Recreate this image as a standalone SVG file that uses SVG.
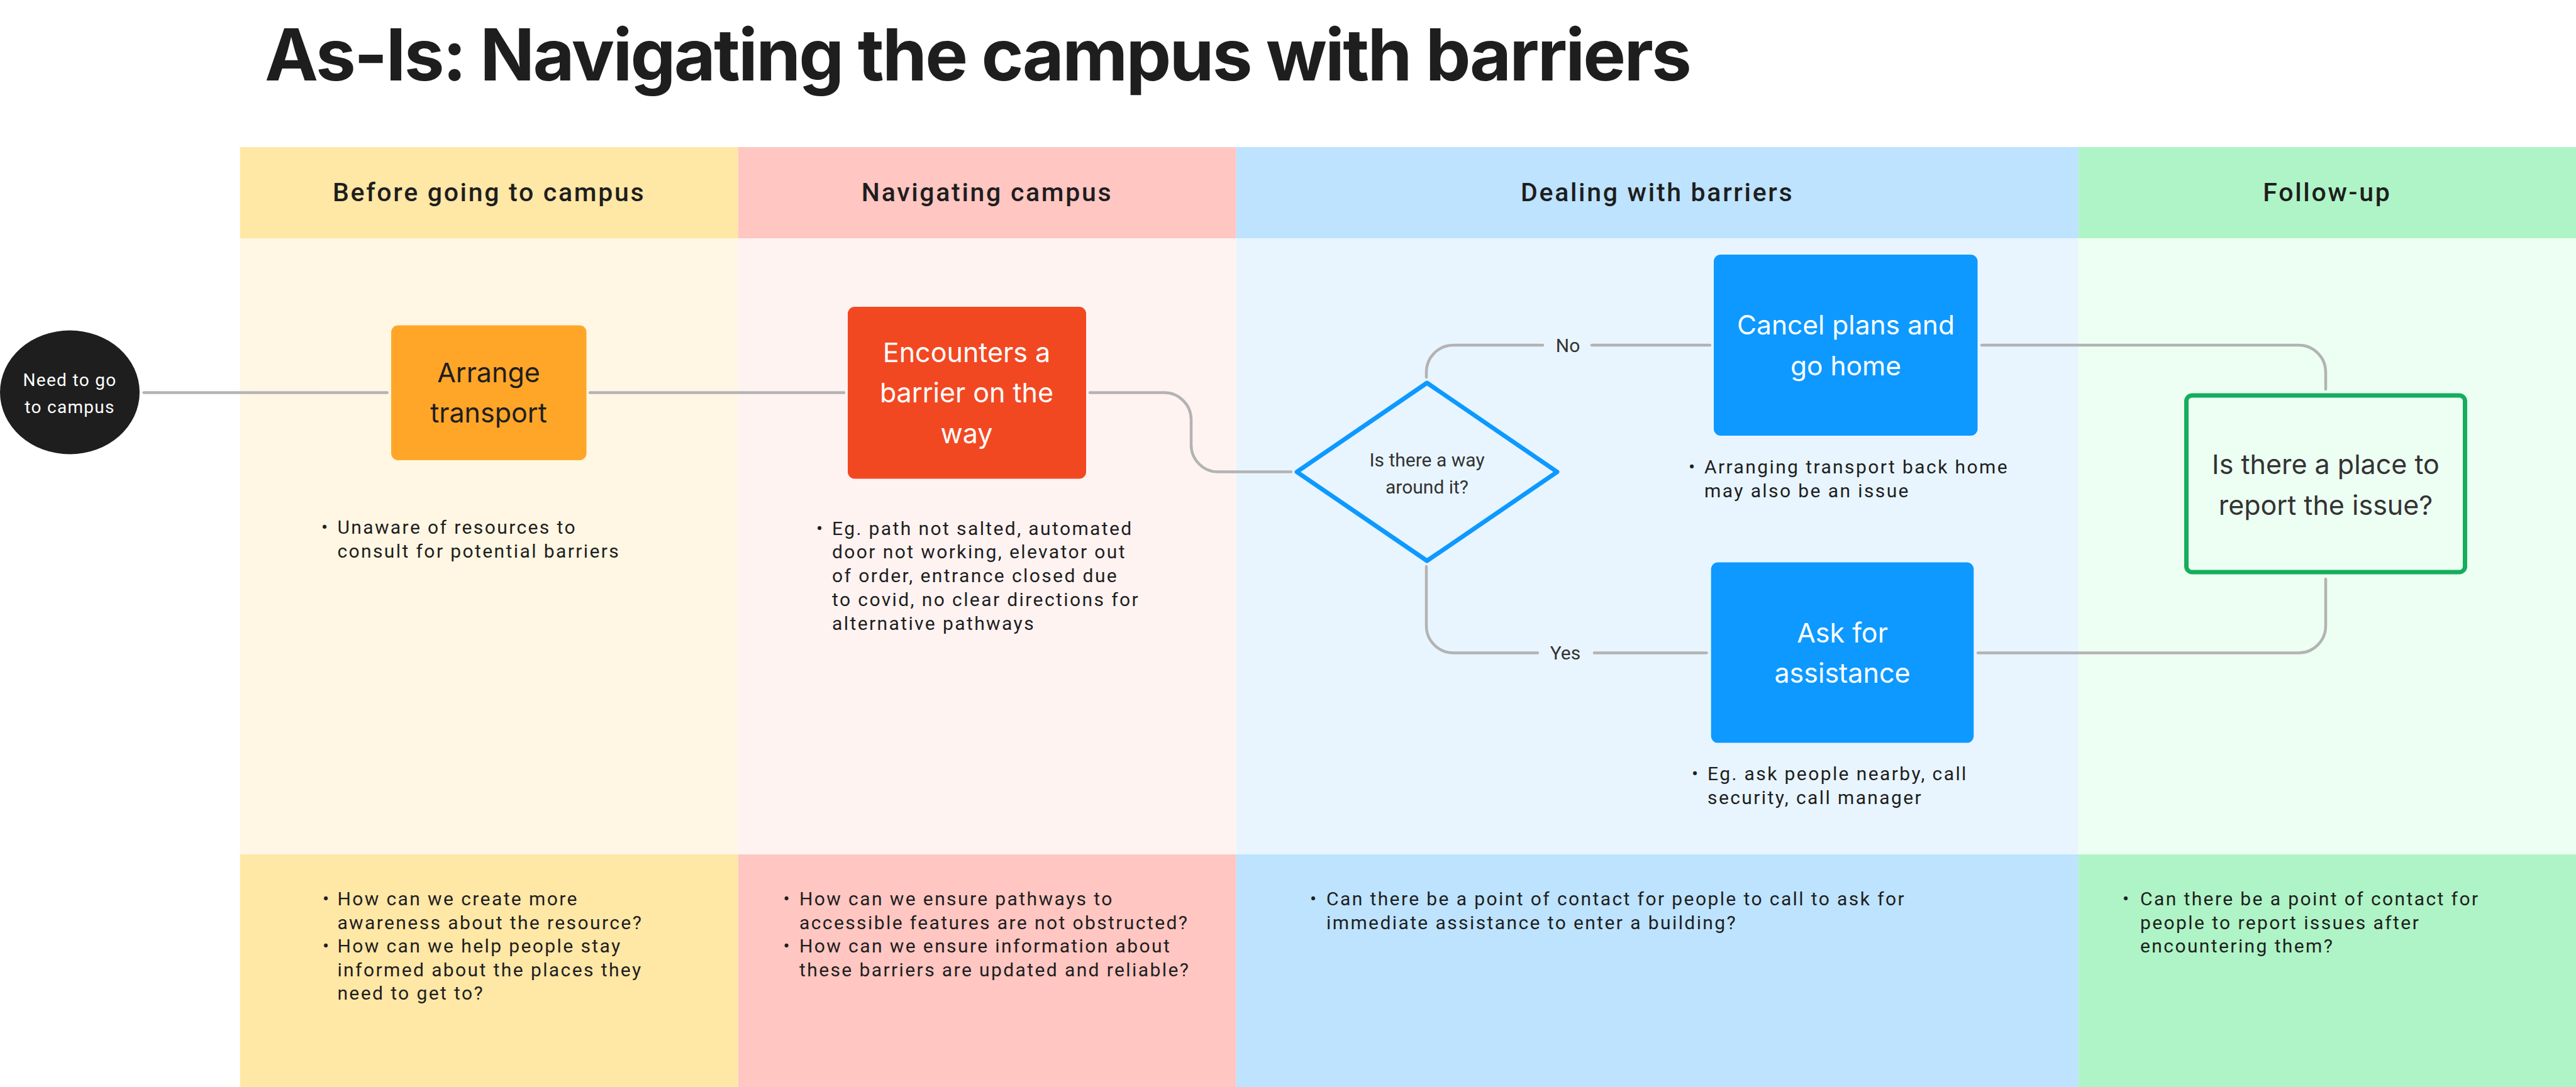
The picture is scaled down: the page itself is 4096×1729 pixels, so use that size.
<svg xmlns="http://www.w3.org/2000/svg" width="4096" height="1729" viewBox="0 0 4096 1729">
<style>
.title{font-family:Inter,"Noto Sans",sans-serif;font-weight:700;font-size:114px;fill:#1E1E1E;letter-spacing:-2.8px}
.hdr{font-family:Roboto,"Liberation Sans",sans-serif;font-weight:500;font-size:41px;fill:#1E1E1E;letter-spacing:2.7px;text-anchor:middle}
.note{font-family:Roboto,"Liberation Sans",sans-serif;font-size:30px;fill:#1E1E1E;letter-spacing:2.4px}
.shape{font-family:Inter,"Noto Sans",sans-serif;font-size:43px;text-anchor:middle}
.w{fill:#FFFFFF}
.d{fill:#1E1E1E}
.g{fill:#333333}
.small{font-family:Roboto,"Liberation Sans",sans-serif;font-size:30px;fill:#333333;text-anchor:middle}
.conn{fill:none;stroke:#B3B3B3;stroke-width:4.5;stroke-linecap:round;stroke-linejoin:round}
</style>
<rect x="0" y="0" width="4096" height="1729" fill="#FFFFFF"/>
<g id="lanes">
<rect x="381.6" y="234" width="792" height="145" fill="#FFE7A6"/>
<rect x="381.6" y="379" width="792" height="980" fill="#FFF7E3"/>
<rect x="381.6" y="1359" width="792" height="370" fill="#FFE7A6"/>
<rect x="1173.6" y="234" width="792" height="145" fill="#FFC6C2"/>
<rect x="1173.6" y="379" width="792" height="980" fill="#FFF3F2"/>
<rect x="1173.6" y="1359" width="792" height="370" fill="#FFC6C2"/>
<rect x="1965.6" y="234" width="1339.2" height="145" fill="#BDE3FF"/>
<rect x="1965.6" y="379" width="1339.2" height="980" fill="#E8F5FF"/>
<rect x="1965.6" y="1359" width="1339.2" height="370" fill="#BDE3FF"/>
<rect x="3304.8" y="234" width="791.2" height="145" fill="#AFF4C6"/>
<rect x="3304.8" y="379" width="791.2" height="980" fill="#EDFFF3"/>
<rect x="3304.8" y="1359" width="791.2" height="370" fill="#AFF4C6"/>
<text class="hdr" x="777.6" y="320">Before going to campus</text>
<text class="hdr" x="1569.6" y="320">Navigating campus</text>
<text class="hdr" x="2635.2" y="320">Dealing with barriers</text>
<text class="hdr" x="3700.4" y="320">Follow-up</text>
</g>
<text class="title" x="421" y="128">As-Is: Navigating the campus with barriers</text>
<g id="connectors">
<path class="conn" d="M228.6 624.5 H615.6"/>
<path class="conn" d="M938 624.5 H1342"/>
<path class="conn" d="M1733 624.5 H1851 A43 43 0 0 1 1894 667.5 V707.6 A43 43 0 0 0 1937 750.6 H2053"/>
<path class="conn" d="M2268 600 V592 A43 43 0 0 1 2311 549 H2453"/>
<path class="conn" d="M2531 549 H2719"/>
<path class="conn" d="M2268 901 V995.5 A43 43 0 0 0 2311 1038.5 H2445"/>
<path class="conn" d="M2535 1038.5 H2713.5"/>
<path class="conn" d="M3151 549 H3655 A43 43 0 0 1 3698 592 V619"/>
<path class="conn" d="M3145 1038.5 H3655 A43 43 0 0 0 3698 995.5 V921"/>
<text class="small" x="2493" y="560">No</text>
<text class="small" x="2489" y="1048.5">Yes</text>
</g>
<g id="start">
<ellipse cx="111" cy="624" rx="111" ry="98.5" fill="#1E1E1E"/>
<text class="note" x="111" y="614" style="fill:#FFFFFF;text-anchor:middle;font-size:28px;letter-spacing:1.3px">Need to go</text>
<text class="note" x="111" y="657" style="fill:#FFFFFF;text-anchor:middle;font-size:28px;letter-spacing:1.3px">to campus</text>
</g>
<g id="arrange">
<rect x="622" y="517.5" width="310.5" height="214.5" rx="11" fill="#FFA629"/>
<text class="shape d" x="777" y="607.5">Arrange</text>
<text class="shape d" x="777" y="672">transport</text>
</g>
<g id="encounters">
<rect x="1348" y="488" width="379" height="273.5" rx="11" fill="#F24822"/>
<text class="shape w" x="1537" y="576">Encounters a</text>
<text class="shape w" x="1537" y="640">barrier on the</text>
<text class="shape w" x="1537" y="705">way</text>
</g>
<g id="decision">
<path d="M2062 750.6 L2269 609 L2476 750.6 L2269 892 Z" fill="#E8F5FF" stroke="#0D99FF" stroke-width="7" stroke-linejoin="round"/>
<text class="small" x="2269" y="741.6">Is there a way</text>
<text class="small" x="2269" y="785">around it?</text>
</g>
<g id="cancel">
<rect x="2725" y="405" width="419.5" height="288" rx="11" fill="#0D99FF"/>
<text class="shape w" x="2935" y="532" style="font-size:42.5px">Cancel plans and</text>
<text class="shape w" x="2935" y="597" style="font-size:42.5px">go home</text>
</g>
<g id="ask">
<rect x="2720.7" y="894.6" width="417.6" height="287" rx="11" fill="#0D99FF"/>
<text class="shape w" x="2929.5" y="1021.5">Ask for</text>
<text class="shape w" x="2929.5" y="1086">assistance</text>
</g>
<g id="report">
<rect x="3476.5" y="629" width="443" height="281" rx="9" fill="#EDFFF3" stroke="#14AE5C" stroke-width="7"/>
<text class="shape g" x="3698" y="754">Is there a place to</text>
<text class="shape g" x="3698" y="819">report the issue?</text>
</g>
<g id="notes">
<text class="note" x="511" y="848.7">•</text>
<text class="note" x="536.4" y="848.7">Unaware of resources to</text>
<text class="note" x="536.4" y="886.5">consult for potential barriers</text>

<text class="note" x="1298" y="850.5">•</text>
<text class="note" x="1323" y="850.5">Eg. path not salted, automated</text>
<text class="note" x="1323" y="888.3">door not working, elevator out</text>
<text class="note" x="1323" y="926.1">of order, entrance closed due</text>
<text class="note" x="1323" y="963.9">to covid, no clear directions for</text>
<text class="note" x="1323" y="1001.7">alternative pathways</text>

<text class="note" x="2685" y="753">•</text>
<text class="note" x="2710" y="753">Arranging transport back home</text>
<text class="note" x="2710" y="791">may also be an issue</text>

<text class="note" x="2690" y="1241">•</text>
<text class="note" x="2715" y="1241">Eg. ask people nearby, call</text>
<text class="note" x="2715" y="1279">security, call manager</text>

<text class="note" x="513" y="1440">•</text>
<text class="note" x="536.4" y="1440">How can we create more</text>
<text class="note" x="536.4" y="1478">awareness about the resource?</text>
<text class="note" x="513" y="1515">•</text>
<text class="note" x="536.4" y="1515">How can we help people stay</text>
<text class="note" x="536.4" y="1553">informed about the places they</text>
<text class="note" x="536.4" y="1590">need to get to?</text>

<text class="note" x="1245.6" y="1440">•</text>
<text class="note" x="1271" y="1440">How can we ensure pathways to</text>
<text class="note" x="1271" y="1478">accessible features are not obstructed?</text>
<text class="note" x="1245.6" y="1515">•</text>
<text class="note" x="1271" y="1515">How can we ensure information about</text>
<text class="note" x="1271" y="1553">these barriers are updated and reliable?</text>

<text class="note" x="2083" y="1440">•</text>
<text class="note" x="2109" y="1440">Can there be a point of contact for people to call to ask for</text>
<text class="note" x="2109" y="1478">immediate assistance to enter a building?</text>

<text class="note" x="3375" y="1440">•</text>
<text class="note" x="3403" y="1440">Can there be a point of contact for</text>
<text class="note" x="3403" y="1478">people to report issues after</text>
<text class="note" x="3403" y="1515">encountering them?</text>
</g>
</svg>
